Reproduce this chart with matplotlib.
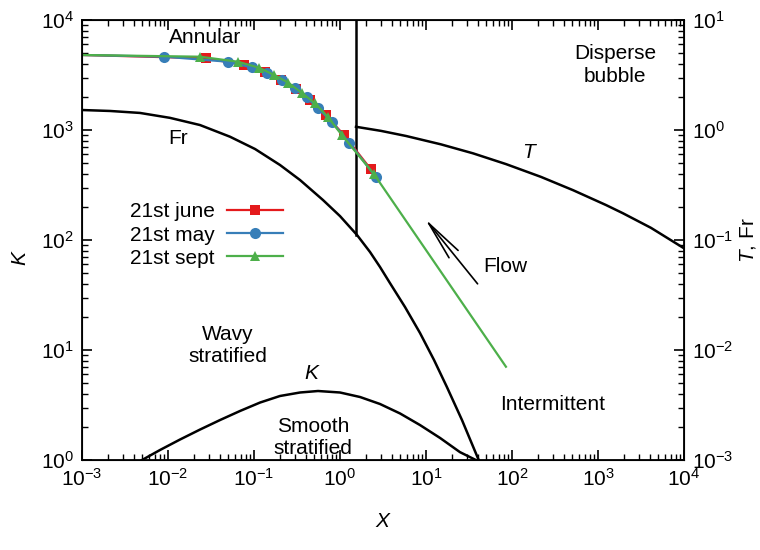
import matplotlib.pyplot as plt

plt.rcParams['font.family'] = ['Liberation Sans', 'DejaVu Sans']
plt.rcParams['mathtext.fontset'] = 'custom'
plt.rcParams['mathtext.rm'] = 'Liberation Sans'
plt.rcParams['mathtext.it'] = 'Liberation Sans:italic'
plt.rcParams['axes.unicode_minus'] = False
plt.rcParams['font.size'] = 15

# ---- boundary curves ----
x_fr = [0.001, 0.00212, 0.00472, 0.01054, 0.02355, 0.0526, 0.1028, 0.2005, 0.343, 0.634,
        1.0, 1.578, 2.234, 2.917, 3.81, 5.70, 8.51, 12.4, 17.5, 26.2, 41.0]
fr = [1.52, 1.49, 1.43, 1.29, 1.11, 0.869, 0.672, 0.481, 0.351, 0.231,
      0.165, 0.111, 0.0778, 0.0569, 0.0406, 0.0246, 0.0143, 0.00811, 0.00461, 0.00231, 0.001]

x_t = [1.535, 3.00, 5.85, 14.9, 35.2, 85.2, 217, 512, 1239, 1953, 4132, 10000]
t = [1.07, 0.982, 0.883, 0.741, 0.614, 0.490, 0.375, 0.284, 0.208, 0.175, 0.129, 0.0841]

x_k = [0.00499, 0.00807, 0.0138, 0.0236, 0.0403, 0.0687, 0.1175, 0.2005, 0.343, 0.555,
       1.0, 1.71, 2.92, 4.99, 8.51, 14.6, 24.8, 38.0]
k = [1.0, 1.233, 1.536, 1.893, 2.31, 2.79, 3.33, 3.82, 4.11, 4.24,
     4.11, 3.74, 3.23, 2.65, 2.08, 1.585, 1.18, 1.0]

x_vert = [1.535, 1.535]
k_vert = [111, 10000]

# ---- measured trajectories ----
x_june = [0.001, 0.0277, 0.0766, 0.134, 0.206, 0.308, 0.448, 0.682, 1.11, 2.28]
k_june = [4810, 4490, 3900, 3390, 2850, 2360, 1875, 1370, 901, 440]

x_may = [0.001, 0.0091, 0.0494, 0.094, 0.143, 0.210, 0.300, 0.410, 0.560, 0.813, 1.28, 2.62]
k_may = [4810, 4640, 4180, 3710, 3320, 2850, 2430, 1980, 1570, 1175, 767, 372]

x_sept = [0.001, 0.0236, 0.0646, 0.115, 0.172, 0.251, 0.359, 0.512, 0.719, 1.05, 2.48, 85]
k_sept = [4810, 4640, 4180, 3680, 3160, 2690, 2180, 1750, 1320, 901, 398, 7.05]

fig = plt.figure(figsize=(7.6, 5.5), dpi=100)
ax = fig.add_axes([0.1079, 0.1636, 0.7921, 0.8])
ax2 = ax.twinx()

ax.set_xscale("log")
ax.set_yscale("log")
ax2.set_yscale("log")
ax.set_xlim(1e-3, 1e4)
ax.set_ylim(1, 1e4)
ax2.set_ylim(1e-3, 1e1)

ax.plot(x_k, k, color="k", lw=1.8)
ax.plot(x_vert, k_vert, color="k", lw=1.8)
ax2.plot(x_fr, fr, color="k", lw=1.8)
ax2.plot(x_t, t, color="k", lw=1.8)

ax.plot(x_june, k_june, color="#e41a1c", lw=1.6, marker="s", ms=7.5, mew=0,
        markevery=list(range(1, len(x_june))), label="21st june")
ax.plot(x_may, k_may, color="#377eb8", lw=1.6, marker="o", ms=8, mew=0,
        markevery=list(range(1, len(x_may))), label="21st may")
ax.plot(x_sept, k_sept, color="#4daf4a", lw=1.6, marker="^", ms=7.5, mew=0,
        markevery=list(range(1, len(x_sept) - 1)), label="21st sept")

ax.annotate("", xy=(9.31, 163), xytext=(41.7, 38.2),
            arrowprops=dict(arrowstyle="->,head_length=1.9,head_width=0.28", color="k", lw=1.2))

ax.text(0.0269, 7000, "Annular", ha="center", va="center")
ax.text(1580, 3900, "Disperse\nbubble", ha="center", va="center", linespacing=1.3)
ax.text(0.0131, 845, "Fr", ha="center", va="center")
ax.text(162, 631, "$T$", ha="center", va="center")
ax.text(83, 58, "Flow", ha="center", va="center")
ax.text(0.0499, 11.1, "Wavy\nstratified", ha="center", va="center", linespacing=1.2)
ax.text(0.472, 6.18, "$K$", ha="center", va="center")
ax.text(0.485, 1.6, "Smooth\nstratified", ha="center", va="center", linespacing=1.2)
ax.text(300, 3.23, "Intermittent", ha="center", va="center")

ax.set_xlabel("$X$", labelpad=16)
ax.set_ylabel("$K$")
ax.yaxis.set_label_coords(-0.087, 0.46)
ax2.set_ylabel("$T$, Fr", labelpad=3)

ax.tick_params(which="both", direction="in", top=True, right=False)
ax.tick_params(which="major", length=7, width=1.2, pad=6)
ax.tick_params(which="minor", length=4, width=1)
ax2.tick_params(which="both", direction="in")
ax2.tick_params(which="major", length=7, width=1.2, pad=6)
ax2.tick_params(which="minor", length=4, width=1)
for sp in ax.spines.values():
    sp.set_linewidth(1.3)

ax.legend(loc="upper left", bbox_to_anchor=(0.048, 0.628), frameon=False,
          markerfirst=False, handlelength=2.7, handletextpad=0.6,
          labelspacing=0.2, fontsize=15)

plt.savefig("out.png", dpi=100)
